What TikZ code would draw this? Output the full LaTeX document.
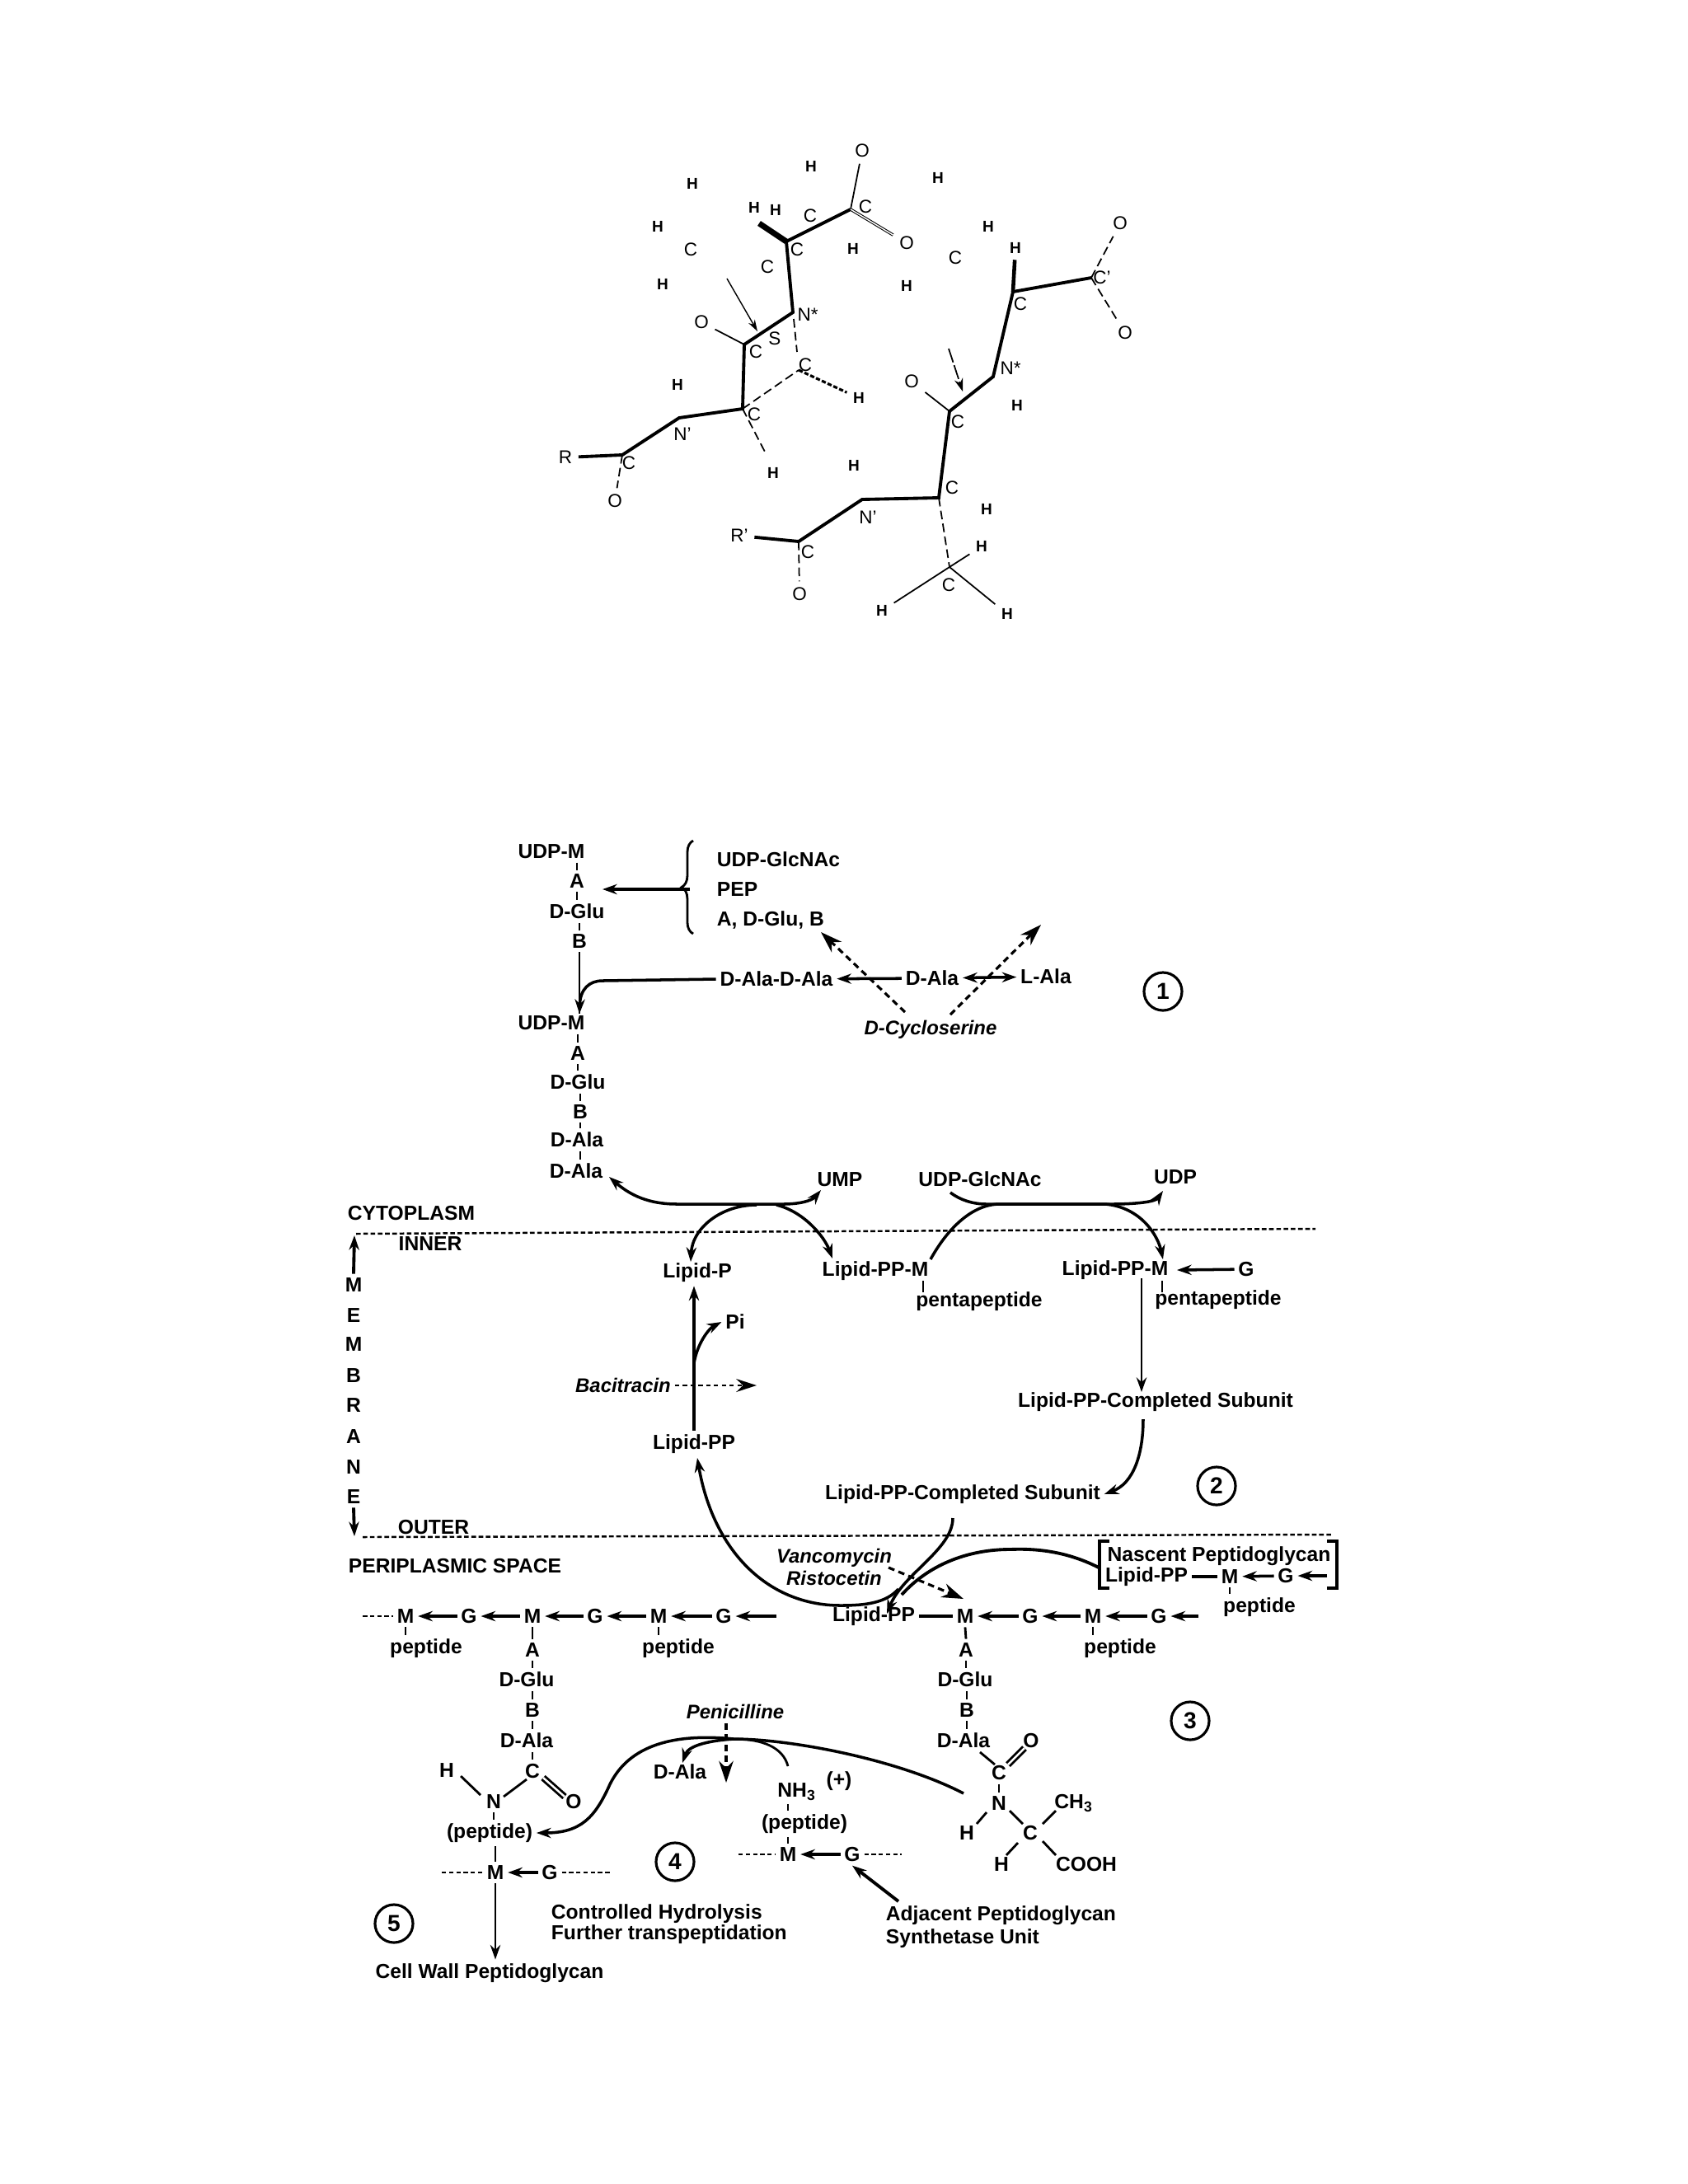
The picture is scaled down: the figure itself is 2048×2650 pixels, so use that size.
\documentclass[tikz,border=0pt]{standalone}
\usepackage{fontspec}
\setmainfont{Liberation Sans}
\usepackage{tikz}
\usetikzlibrary{arrows.meta, calc, decorations.pathreplacing}

\begin{document}
\begin{tikzpicture}[x=0.01cm, y=-0.01cm,
  lbl/.style={inner sep=1.2pt, font=\fontsize{7}{8}\selectfont\bfseries},
  drug/.style={inner sep=1.2pt, font=\fontsize{6.8}{8}\selectfont\bfseries\itshape},
  atom/.style={inner sep=2pt, font=\fontsize{6.4}{7}\selectfont},
  hatom/.style={inner sep=2pt, font=\fontsize{5.4}{7}\selectfont\bfseries},
  stepno/.style={draw, circle, line width=0.9pt, inner sep=0pt, minimum size=0.46cm, font=\fontsize{8}{9}\selectfont\bfseries},
  bond/.style={line width=1.1pt},
  wbond/.style={line width=0.5pt},
  dbond/.style={line width=0.5pt, dash pattern=on 3pt off 1.5pt},
  tick/.style={line width=0.8pt},
  arr/.style={line width=1pt, -{Stealth[length=5pt, width=3.5pt]}},
  darr/.style={line width=0.9pt, dash pattern=on 2.2pt off 1.5pt, -{Stealth[length=7.5pt, width=5pt]}},
  flow/.style={line width=1pt, -{Stealth[length=5pt, width=3.5pt]}},
  chain/.style={line width=0.8pt, dash pattern=on 1.5pt off 1pt},
  memb/.style={line width=0.7pt, dash pattern=on 1.6pt off 0.9pt},
]
  \useasboundingbox (0,0) rectangle (2048,2650);

  \node[atom] (ot) at (1046,183) {O};
  \node[hatom] (ha) at (984,202) {H};
  \node[hatom] (hb) at (1138,216) {H};
  \node[hatom] (hc) at (840,223) {H};
  \node[hatom] (hd) at (915,252) {H};
  \node[hatom] (he) at (941,255) {H};
  \node[atom] (ca) at (983,262) {C};
  \node[atom] (cb) at (1050,251) {C};
  \node[hatom] (hf) at (798,275) {H};
  \node[hatom] (hg) at (1199,275) {H};
  \node[atom] (oa) at (1100,295) {O};
  \node[atom] (cc) at (838,303) {C};
  \node[atom] (cd) at (967,303) {C};
  \node[hatom] (hh) at (1035,302) {H};
  \node[atom] (ce) at (1159,313) {C};
  \node[hatom] (hi) at (1232,301) {H};
  \node[atom] (ob) at (1359,271) {O};
  \node[atom] (cf) at (931,324) {C};
  \node[hatom] (hj) at (804,345) {H};
  \node[hatom] (hk) at (1100,347) {H};
  \node[atom] (cg) at (1337,337) {C'};
  \node[atom] (ch) at (1238,369) {C};
  \node[atom] (oc) at (1365,404) {O};
  \node[atom] (od) at (851,391) {O};
  \node[atom] (na) at (980,382) {N*};
  \node[atom] (sa) at (940,411) {S};
  \node[atom] (ci) at (917,427) {C};
  \node[atom] (cj) at (977,443) {C};
  \node[atom] (nb) at (1226,447) {N*};
  \node[atom] (oe) at (1106,463) {O};
  \node[hatom] (hl) at (822,467) {H};
  \node[hatom] (hm) at (1042,483) {H};
  \node[hatom] (hn) at (1234,492) {H};
  \node[atom] (ck) at (1162,512) {C};
  \node[atom] (cl) at (915,503) {C};
  \node[atom] (nc) at (828,527) {N'};
  \node[atom] (ra) at (686,555) {R};
  \node[atom] (cm) at (763,562) {C};
  \node[hatom] (ho) at (938,574) {H};
  \node[hatom] (hp) at (1036,565) {H};
  \node[atom] (cn) at (1155,592) {C};
  \node[hatom] (hq) at (1197,618) {H};
  \node[atom] (nd) at (1053,628) {N'};
  \node[atom] (of) at (746,608) {O};
  \node[atom] (rb) at (897,650) {R'};
  \node[atom] (co) at (980,670) {C};
  \node[hatom] (hr) at (1191,663) {H};
  \node[atom] (cp) at (1151,710) {C};
  \node[atom] (og) at (970,721) {O};
  \node[hatom] (hs) at (1070,741) {H};
  \node[hatom] (ht) at (1222,745) {H};

  \coordinate (va) at (921,271);
  \coordinate (vb) at (954,293);
  \coordinate (vc) at (1032,254);
  \coordinate (vd) at (962,379);
  \coordinate (ve) at (903,418);
  \coordinate (vf) at (901,496);
  \coordinate (vg) at (824,507);
  \coordinate (vh) at (755,552);
  \coordinate (vi) at (969,449);
  \coordinate (vj) at (1229,354);
  \coordinate (vk) at (1324,337);
  \coordinate (vl) at (1205,457);
  \coordinate (vm) at (1152,499);
  \coordinate (vn) at (1139,604);
  \coordinate (vo) at (1046,606);
  \coordinate (vp) at (969,657);
  \coordinate (vq) at (1152,688);
  \coordinate (wa) at (882,338);
  \coordinate (wb) at (919,402);
  \coordinate (wc) at (1151,423);
  \coordinate (wd) at (1168,475);
  \coordinate (we) at (930,552);
  \coordinate (wf) at (967,427);
  \coordinate (wg) at (963,387);

  \draw[line width=2pt] (va) -- (vb);
  \draw[bond] (vb) -- (vc);
  \draw[bond] (vb) -- (vd) -- (ve) -- (vf) -- (vg) -- (vh) -- (ra);
  \draw[wbond] (vc) -- (ot);
  \draw[line width=0.3pt, double, double distance=0.4pt] (vc) -- (oa);
  \draw[wbond] (ve) -- (od);
  \draw[dbond] (wg) -- (wf);
  \draw[dbond] (vf) -- (vi);
  \draw[dbond, line width=0.9pt, dash pattern=on 1.5pt off 0.7pt] (vi) -- (hm);
  \draw[dbond] (vf) -- (we);
  \draw[dbond] (vh) -- (of);
  \draw[line width=0.4pt, -{Stealth[length=4pt, width=2.5pt]}] (wa) -- (wb);
  \draw[line width=1.3pt] (hi) -- (vj);
  \draw[bond] (vj) -- (vk);
  \draw[bond] (vj) -- (vl) -- (vm) -- (vn) -- (vo) -- (vp) -- (rb);
  \draw[dbond] (vk) -- (ob);
  \draw[dbond] (vk) -- (oc);
  \draw[wbond] (vm) -- (oe);
  \draw[dbond] (vp) -- (og);
  \draw[dbond] (vn) -- (vq);
  \draw[wbond] (vq) -- (hr);
  \draw[wbond] (vq) -- (hs);
  \draw[wbond] (vq) -- (ht);
  \draw[line width=0.5pt, dash pattern=on 5pt off 1pt, -{Stealth[length=4.5pt, width=3pt]}] (wc) -- (wd);

  \node[lbl] (udpa) at (669,1033) {UDP-M};
  \node[lbl] (aa) at (700,1069) {A};
  \node[lbl] (glua) at (700,1106) {D-Glu};
  \node[lbl] (ba) at (703,1142) {B};
  \node[lbl] (udpb) at (669,1241) {UDP-M};
  \node[lbl] (ab) at (701,1278) {A};
  \node[lbl] (glub) at (701,1313) {D-Glu};
  \node[lbl] (bb) at (704,1349) {B};
  \node[lbl] (alaa) at (700,1383) {D-Ala};
  \node[lbl] (alab) at (699,1421) {D-Ala};
  \node[lbl, anchor=west] (gnaca) at (865,1043) {UDP-GlcNAc};
  \node[lbl, anchor=west] (pep) at (865,1079) {PEP};
  \node[lbl, anchor=west] (aglub) at (865,1116) {A, D-Glu, B};
  \node[lbl] (dalaala) at (942,1188) {D-Ala-D-Ala};
  \node[lbl] (alac) at (1131,1187) {D-Ala};
  \node[lbl] (lala) at (1269,1185) {L-Ala};
  \node[drug] (cyclo) at (1129,1249) {D-Cycloserine};
  \node[stepno] (stepa) at (1411,1203) {1};

  \coordinate (brt) at (841,1020);
  \coordinate (brb) at (841,1133);
  \coordinate (bra) at (837,1079);
  \coordinate (brc) at (731,1079);
  \coordinate (cyca) at (1098,1228);
  \coordinate (cycb) at (996,1131);
  \coordinate (cycc) at (1153,1231);
  \coordinate (cycd) at (1263,1122);
  \coordinate (glue) at (703,1160);
  \coordinate (mtop) at (703,1230);

  \draw[line width=0.8pt, decorate, decoration={brace, amplitude=4pt}] (brb) -- (brt);
  \draw[arr, line width=1.2pt] (bra) -- (brc);
  \draw[tick] (udpa.south -| aa) -- (aa.north);
  \draw[tick] (aa) -- (glua.north -| aa);
  \draw[tick] (glua.south -| ba) -- (ba.north);
  \draw[tick] (ba.south) -- (glue) -- (mtop);
  \draw[flow] (dalaala.west) -- (731,1190) .. controls (715,1190) and (704,1200) .. (mtop);
  \draw[tick] (udpb.south -| ab) -- (ab.north);
  \draw[tick] (ab.south) -- (glub.north -| ab);
  \draw[tick] (glub.south -| bb) -- (bb.north);
  \draw[tick] (bb.south) -- (alaa.north -| bb);
  \draw[tick] (alaa.south -| bb) -- (alab.north -| bb);
  \draw[arr] (alac) -- (dalaala);
  \draw[line width=1pt, {Stealth[length=5pt, width=3.5pt]}-{Stealth[length=5pt, width=3.5pt]}] (alac) -- (lala);
  \draw[darr] (cyca) -- (cycb);
  \draw[darr] (cycc) -- (cycd);

  \node[lbl] (ump) at (1019,1431) {UMP};
  \node[lbl] (gnacb) at (1189,1431) {UDP-GlcNAc};
  \node[lbl] (udp) at (1426,1428) {UDP};
  \node[lbl, anchor=west] (cyto) at (417,1472) {CYTOPLASM};
  \node[lbl] (inner) at (522,1509) {INNER};
  \node[lbl] (lipidp) at (846,1544) {Lipid-P};
  \node[lbl] (lipma) at (1062,1542) {Lipid-PP-M};
  \node[lbl] (pentaa) at (1188,1579) {pentapeptide};
  \node[lbl] (lipmb) at (1353,1541) {Lipid-PP-M};
  \node[lbl] (ga) at (1512,1540) {G};
  \node[lbl] (pentab) at (1478,1577) {pentapeptide};
  \node[lbl] (sublea) at (1402,1701) {Lipid-PP-Completed Subunit};
  \node[lbl] (subleb) at (1168,1813) {Lipid-PP-Completed Subunit};
  \node[lbl] (pi) at (892,1604) {Pi};
  \node[drug] (baci) at (756,1681) {Bacitracin};
  \node[lbl] (lipb) at (842,1752) {Lipid-PP};
  \node[stepno] (stepb) at (1476,1803) {2};
  \node[lbl] (outer) at (526,1853) {OUTER};
  \node[lbl, anchor=west] (peri) at (418,1900) {PERIPLASMIC SPACE};
  \node[lbl] (mema) at (429,1559) {M};
  \node[lbl] (memb) at (429,1596) {E};
  \node[lbl] (memc) at (429,1631) {M};
  \node[lbl] (memd) at (429,1669) {B};
  \node[lbl] (meme) at (429,1705) {R};
  \node[lbl] (memf) at (429,1743) {A};
  \node[lbl] (memg) at (429,1780) {N};
  \node[lbl] (memh) at (429,1816) {E};

  \coordinate (inl) at (432,1497);
  \coordinate (inr) at (1596,1491);
  \coordinate (outl) at (440,1865);
  \coordinate (outr) at (1616,1862);
  \coordinate (topm) at (430,1499);
  \coordinate (botm) at (430,1864);
  \coordinate (tipg) at (1428,1541);
  \coordinate (tipm) at (1411,1528);
  \coordinate (lipr) at (1385,1551);
  \coordinate (subr) at (1385,1689);
  \coordinate (tka) at (1120,1554);
  \coordinate (tkb) at (1120,1568);
  \coordinate (tkc) at (1410,1554);
  \coordinate (tkd) at (1410,1568);

  \draw[memb] (inl) -- (inr);
  \draw[memb] (outl) -- (outr);
  \draw[arr, line width=1.1pt] (mema.north) -- (topm);
  \draw[arr, line width=1.1pt] (memh.south) -- (botm);
  \draw[line width=1pt, {Stealth[length=5pt, width=3.5pt]}-{Stealth[length=5pt, width=3.5pt]}] (739,1428) .. controls (770,1455) and (795,1461) .. (822,1461) -- (950,1461) .. controls (970,1461) and (985,1457) .. (996,1444);
  \draw[flow] (918,1462) .. controls (875,1462) and (840,1490) .. (838,1531);
  \draw[flow] (942,1462) .. controls (975,1470) and (1000,1500) .. (1010,1527);
  \draw[flow] (1153,1447) .. controls (1165,1456) and (1180,1461) .. (1197,1461) -- (1349,1461) .. controls (1380,1461) and (1402,1458) .. (1411,1445);
  \draw[flow] (1129,1528) .. controls (1150,1490) and (1180,1461) .. (1213,1461) -- (1341,1461) .. controls (1385,1465) and (1405,1500) .. (tipm);
  \draw[arr] (ga) -- (tipg);
  \draw[tick] (tka) -- (tkb);
  \draw[tick] (tkc) -- (tkd);
  \draw[arr, line width=0.8pt] (lipr) -- (subr);
  \draw[flow] (1387,1722) .. controls (1387,1765) and (1375,1800) .. (subleb.east);
  \draw[arr, line width=1pt] (lipb.north) -- (lipidp.south -| lipb);
  \draw[flow] (842,1654) .. controls (846,1630) and (860,1612) .. (pi.west);
  \draw[line width=0.8pt, dash pattern=on 1.5pt off 1.2pt, -{Stealth[length=7pt, width=4.5pt]}] (baci.east) -- (918,1681);

  \node[drug] (vanco) at (1012,1890) {Vancomycin};
  \node[drug] (risto) at (1012,1915) {Ristocetin};
  \node[lbl] (nascent) at (1479,1888) {Nascent Peptidoglycan};
  \node[lbl] (lipc) at (1391,1913) {Lipid-PP};
  \node[lbl] (mb) at (1492,1913) {M};
  \node[lbl] (gb) at (1560,1912) {G};
  \node[lbl] (pepb) at (1528,1950) {peptide};

  \node[lbl] (mc) at (492,1961) {M};
  \node[lbl] (gc) at (569,1961) {G};
  \node[lbl] (md) at (646,1961) {M};
  \node[lbl] (gd) at (722,1961) {G};
  \node[lbl] (me) at (799,1961) {M};
  \node[lbl] (ge) at (878,1961) {G};
  \node[lbl] (pepc) at (517,2000) {peptide};
  \node[lbl] (pepd) at (823,2000) {peptide};
  \node[lbl] (lipd) at (1060,1961) {Lipid-PP};
  \node[lbl] (mf) at (1171,1961) {M};
  \node[lbl] (gf) at (1250,1961) {G};
  \node[lbl] (mg) at (1326,1961) {M};
  \node[lbl] (gg) at (1406,1961) {G};
  \node[lbl] (pepe) at (1359,2000) {peptide};

  \coordinate (brbl) at (1346,1870);
  \coordinate (brtl) at (1334,1870);
  \coordinate (brll) at (1334,1927);
  \coordinate (brlr) at (1346,1927);
  \coordinate (brtr) at (1622,1870);
  \coordinate (brrt) at (1610,1870);
  \coordinate (brbr) at (1622,1927);
  \coordinate (brrb) at (1610,1927);
  \coordinate (nasc) at (1333,1902);
  \coordinate (lipe) at (1076,1958);
  \coordinate (subd) at (1156,1842);
  \coordinate (chna) at (440,1961);
  \coordinate (gbt) at (1610,1912);
  \coordinate (geb) at (942,1961);
  \coordinate (ggb) at (1454,1961);
  \coordinate (vana) at (1078,1902);
  \coordinate (vanb) at (1169,1940);

  \draw[bond, line width=0.9pt] (brbl) -- (brtl) -- (brll) -- (brlr);
  \draw[bond, line width=0.9pt] (brrt) -- (brtr) -- (brbr) -- (brrb);
  \draw[bond] (lipc) -- (mb);
  \draw[arr] (gb) -- (mb);
  \draw[arr] (gbt) -- (gb);
  \draw[tick] (mb.south) -- (pepb.north -| mb);
  \draw[memb, line width=0.8pt] (chna) -- (mc);
  \draw[arr] (gc) -- (mc);
  \draw[arr] (md) -- (gc);
  \draw[arr] (gd) -- (md);
  \draw[arr] (me) -- (gd);
  \draw[arr] (ge) -- (me);
  \draw[arr] (geb) -- (ge);
  \draw[tick] (mc.south) -- (pepc.north -| mc);
  \draw[tick] (me.south) -- (pepd.north -| me);
  \draw[bond] (lipd) -- (mf);
  \draw[arr] (gf) -- (mf);
  \draw[arr] (mg) -- (gf);
  \draw[arr] (gg) -- (mg);
  \draw[arr] (ggb) -- (gg);
  \draw[tick] (mg.south) -- (pepe.north -| mg);
  \draw[flow] (1090,1928) .. controls (1075,1945) and (1050,1948) .. (1020,1948) .. controls (930,1948) and (865,1880) .. (846,1769);
  \draw[flow] (subd) .. controls (1156,1880) and (1095,1910) .. (lipe);
  \draw[bond] (nasc) .. controls (1290,1880) and (1250,1879) .. (1225,1880) .. controls (1180,1880) and (1130,1895) .. (1094,1935);
  \draw[darr] (vana) -- (vanb);

  \node[lbl] (aleft) at (646,2002) {A};
  \node[lbl] (glul) at (639,2038) {D-Glu};
  \node[lbl] (bl) at (646,2075) {B};
  \node[lbl] (alal) at (639,2112) {D-Ala};
  \node[lbl] (cl1) at (646,2149) {C};
  \node[lbl] (hl1) at (542,2148) {H};
  \node[lbl] (nl) at (599,2186) {N};
  \node[lbl] (ol) at (696,2186) {O};
  \node[lbl] (pepf) at (594,2224) {(peptide)};
  \node[lbl] (mh) at (601,2272) {M};
  \node[lbl] (gh) at (667,2272) {G};
  \node[lbl] (wall) at (594,2394) {Cell Wall Peptidoglycan};
  \node[stepno] (stepe) at (478,2334) {5};
  \node[stepno] (stepd) at (819,2259) {4};
  \node[stepno] (stepc) at (1444,2088) {3};
  \node[lbl, anchor=west] (ctrl) at (664,2322) {Controlled Hydrolysis};
  \node[lbl, anchor=west] (trans) at (664,2347) {Further transpeptidation};
  \node[lbl, anchor=west] (adj) at (1070,2324) {Adjacent Peptidoglycan};
  \node[lbl, anchor=west] (synth) at (1070,2352) {Synthetase Unit};

  \node[lbl] (ari) at (1172,2002) {A};
  \node[lbl] (glur) at (1171,2038) {D-Glu};
  \node[lbl] (bri) at (1173,2075) {B};
  \node[lbl] (alar) at (1169,2112) {D-Ala};
  \node[lbl] (ori) at (1251,2112) {O};
  \node[lbl] (cra) at (1212,2151) {C};
  \node[lbl] (nri) at (1212,2188) {N};
  \node[lbl] (chi) at (1303,2188) {CH\textsubscript{3}};
  \node[lbl] (hra) at (1173,2224) {H};
  \node[lbl] (crb) at (1250,2224) {C};
  \node[lbl] (hrb) at (1215,2262) {H};
  \node[lbl] (cooh) at (1318,2262) {COOH};

  \node[drug] (peni) at (892,2077) {Penicilline};
  \node[lbl] (alam) at (825,2150) {D-Ala};
  \node[lbl] (nhi) at (967,2174) {NH\textsubscript{3}};
  \node[lbl] (plus) at (1018,2161) {(+)};
  \node[lbl] (pepg) at (976,2213) {(peptide)};
  \node[lbl] (mi) at (956,2250) {M};
  \node[lbl] (gi) at (1034,2250) {G};

  \coordinate (dhl) at (536,2272);
  \coordinate (dhr) at (743,2272);
  \coordinate (dil) at (896,2250);
  \coordinate (dir) at (1094,2250);
  \coordinate (hump) at (890,2110);
  \coordinate (adjt) at (1090,2307);
  \coordinate (pena) at (881,2091);
  \coordinate (penb) at (881,2163);
  \coordinate (bna) at (559,2155);
  \coordinate (bnb) at (583,2178);
  \coordinate (bnc) at (639,2159);
  \coordinate (bnd) at (611,2180);
  \coordinate (bne) at (659,2157);
  \coordinate (bnf) at (685,2180);
  \coordinate (bra1) at (1189,2126);
  \coordinate (bra2) at (1207,2141);
  \coordinate (brc1) at (1223,2141);
  \coordinate (brc2) at (1243,2121);
  \coordinate (brd1) at (1197,2199);
  \coordinate (brd2) at (1185,2213);
  \coordinate (bre1) at (1225,2197);
  \coordinate (bre2) at (1241,2213);
  \coordinate (brf1) at (1265,2213);
  \coordinate (brf2) at (1281,2197);
  \coordinate (brg1) at (1235,2236);
  \coordinate (brg2) at (1221,2251);
  \coordinate (brh1) at (1265,2234);
  \coordinate (brh2) at (1281,2251);

  \draw[tick] (md.south) -- (aleft.north);
  \draw[tick] (aleft.south) -- (glul.north -| aleft);
  \draw[tick] (glul.south -| bl) -- (bl.north);
  \draw[tick] (bl.south) -- (alal.north -| bl);
  \draw[tick] (alal.south -| bl) -- (cl1.north);
  \draw[tick] (bnc) -- (bnd);
  \draw[tick] (bna) -- (bnb);
  \draw[tick, double, double distance=0.7pt] (bne) -- (bnf);
  \draw[tick] (nl.south) -- (pepf.north -| nl);
  \draw[tick] (pepf.south -| mh) -- (mh.north);
  \draw[chain] (dhl) -- (mh);
  \draw[arr] (gh) -- (mh);
  \draw[chain] (gh) -- (dhr);
  \draw[arr, line width=0.8pt] (mh.south) -- (wall.north -| mh);

  \draw[tick] (mf.south) -- (ari.north);
  \draw[tick] (ari.south) -- (glur.north -| ari);
  \draw[tick] (glur.south -| bri) -- (bri.north);
  \draw[tick] (bri.south) -- (alar.north -| bri);
  \draw[tick] (bra1) -- (bra2);
  \draw[tick, double, double distance=0.7pt] (brc1) -- (brc2);
  \draw[tick] (cra.south) -- (nri.north);
  \draw[tick] (brd1) -- (brd2);
  \draw[tick] (bre1) -- (bre2);
  \draw[tick] (brf1) -- (brf2);
  \draw[tick] (brg1) -- (brg2);
  \draw[tick] (brh1) -- (brh2);

  \draw[flow] (1169,2176) .. controls (1090,2135) and (960,2110) .. (hump) .. controls (790,2100) and (755,2135) .. (740,2165) .. controls (722,2205) and (705,2224) .. (pepf.east);
  \draw[flow] (hump) .. controls (860,2112) and (835,2118) .. (828,2139);
  \draw[line width=0.8pt] (hump) .. controls (925,2110) and (950,2120) .. (956,2143);
  \draw[darr] (pena) -- (penb);
  \draw[tick] (nhi.south -| mi) -- (pepg.north -| mi);
  \draw[tick] (pepg.south -| mi) -- (mi.north);
  \draw[chain] (dil) -- (mi);
  \draw[arr] (gi) -- (mi);
  \draw[chain] (gi) -- (dir);
  \draw[arr, line width=1.1pt] (adjt) -- (gi.south);
\end{tikzpicture}
\end{document}
